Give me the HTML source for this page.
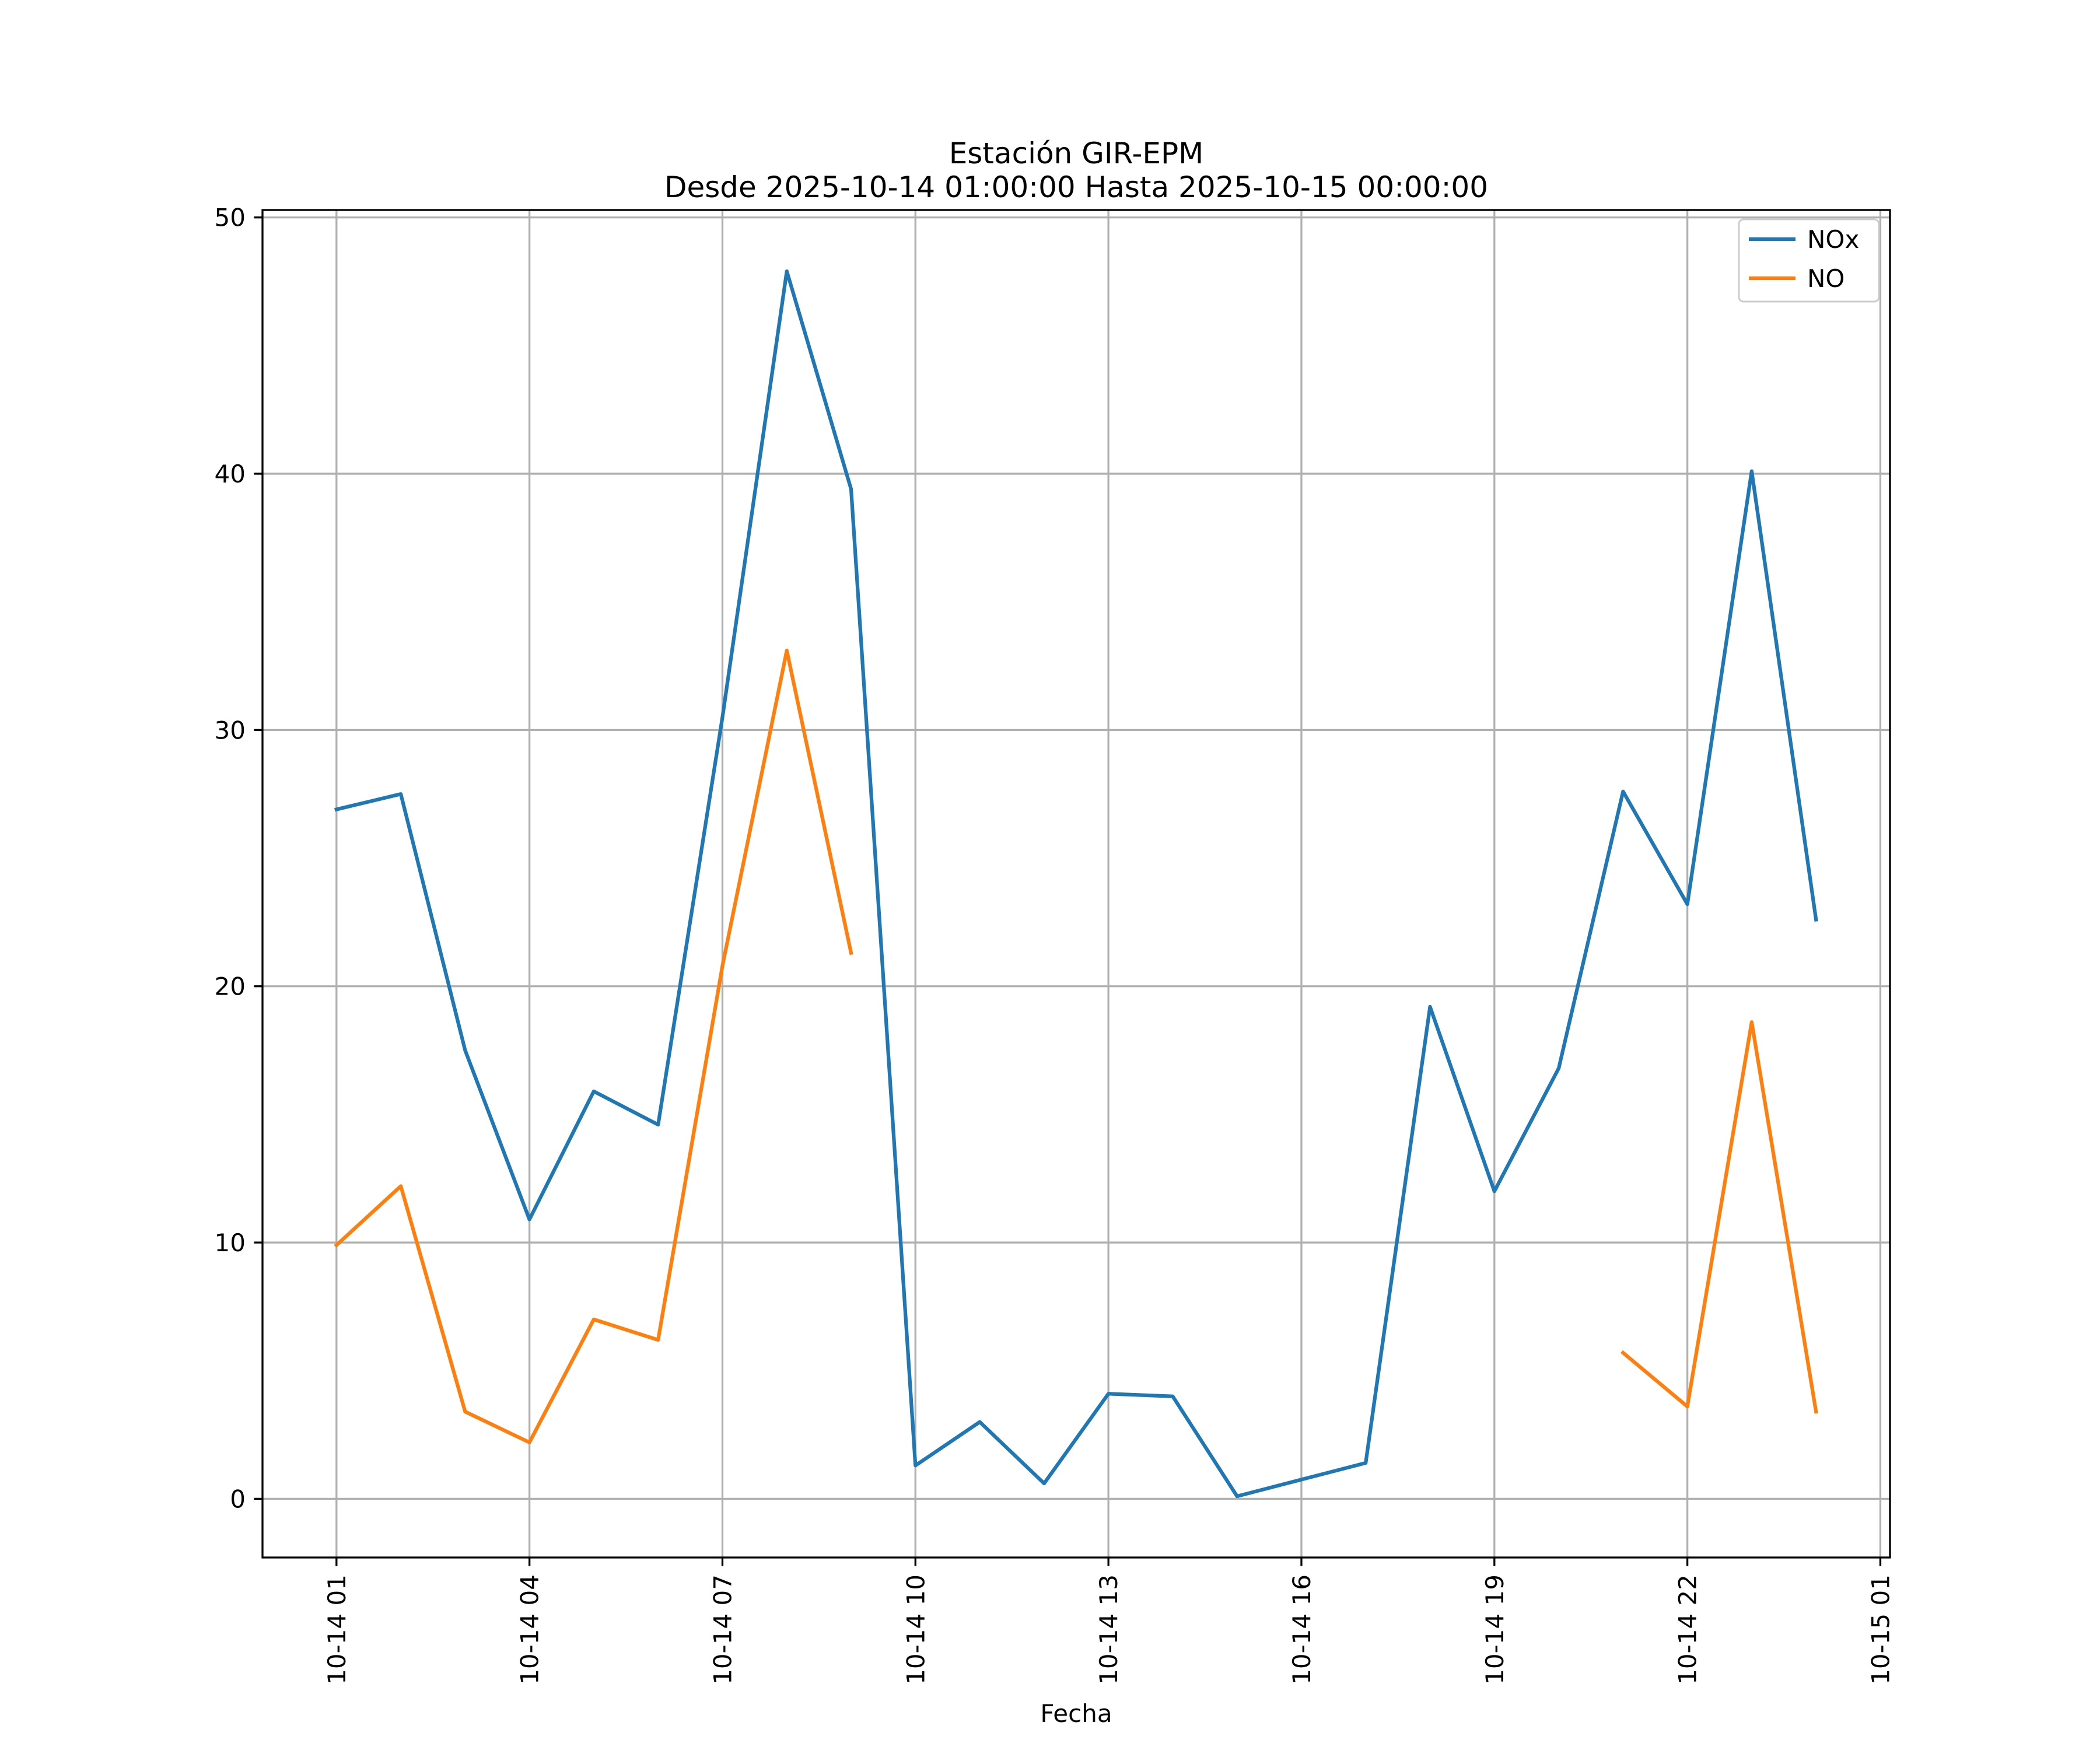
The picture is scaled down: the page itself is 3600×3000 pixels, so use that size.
<!DOCTYPE html>
<html><head><meta charset="utf-8"><style>html,body{margin:0;padding:0;background:#fff}svg{display:block}text{font-family:"DejaVu Sans","Liberation Sans",sans-serif;fill:#000}</style></head>
<body>
<svg id="chart" width="3600" height="3000" viewBox="0 0 3600 3000" xmlns="http://www.w3.org/2000/svg">
<text x="1845" y="280" font-size="50" text-anchor="middle">Estación GIR-EPM</text>
<text x="1845" y="338" font-size="50" text-anchor="middle">Desde 2025-10-14 01:00:00 Hasta 2025-10-15 00:00:00</text>
<g id="grid"></g><g id="series"></g><g id="axes"></g>
<text x="1845" y="2952" font-size="42" text-anchor="middle">Fecha</text>
<g transform="translate(-14,-5)">
<rect x="2995" y="381" width="240" height="141" rx="8" fill="#fff" fill-opacity="0.8" stroke="#ccc" stroke-width="3"/>
<line x1="3012" y1="415" x2="3092" y2="415" stroke="#1f77b4" stroke-width="6.25"/>
<text x="3112" y="430" font-size="42">NOx</text>
<line x1="3012" y1="482" x2="3092" y2="482" stroke="#ff7f0e" stroke-width="6.25"/>
<text x="3112" y="497" font-size="42">NO</text>
</g>
</svg>
<script>
const hours = [1,2,3,4,5,6,7,8,9,10,11,12,13,14,15,16,17,18,19,20,21,22,23,24];
const noxValues = [26.9,27.5,17.5,10.9,15.9,14.6,30.5,47.9,39.4,1.3,3.0,0.6,4.1,4.0,0.1,0.75,1.4,19.2,12.0,16.8,27.6,23.2,40.1,22.6];
const noValues = [9.9,12.2,3.4,2.2,7.0,6.2,20.8,33.1,21.3,null,null,null,null,null,null,null,null,null,null,null,5.7,3.6,18.6,3.4];
const xTickHours = [1,4,7,10,13,16,19,22,25];
const xTickLabels = ["10-14 01","10-14 04","10-14 07","10-14 10","10-14 13","10-14 16","10-14 19","10-14 22","10-15 01"];
const yTicks = [0,10,20,30,40,50];

const L=450,R=3240,T=360,B=2670;
const xmin=-0.15,xmax=25.15,ymin=-2.29,ymax=50.29;
const X=h=>L+(h-xmin)/(xmax-xmin)*(R-L);
const Y=v=>B-(v-ymin)/(ymax-ymin)*(B-T);
const NS="http://www.w3.org/2000/svg";
function mk(tag,attrs,parent){const e=document.createElementNS(NS,tag);for(const k in attrs)e.setAttribute(k,attrs[k]);parent.appendChild(e);return e;}
const grid=document.getElementById('grid'),axes=document.getElementById('axes'),series=document.getElementById('series');
xTickHours.forEach((h,i)=>{
  const x=X(h);
  const g=mk('line',{x1:x,x2:x,y1:T,y2:B,stroke:'#b0b0b0','stroke-width':3.3},grid);
  
  
  mk('line',{x1:x,x2:x,y1:B,y2:B+14.6,stroke:'#000','stroke-width':3.3},axes);
  const t=mk('text',{x:0,y:0,'font-size':42,'text-anchor':'end',transform:`translate(${x+15},${B+29}) rotate(-90)`},axes);
  t.textContent=xTickLabels[i];
  
  
});
yTicks.forEach(v=>{
  const y=Y(v);
  const g=mk('line',{x1:L,x2:R,y1:y,y2:y,stroke:'#b0b0b0','stroke-width':3.3},grid);
  
  
  mk('line',{x1:L-14.6,x2:L,y1:y,y2:y,stroke:'#000','stroke-width':3.3},axes);
  const t=mk('text',{x:L-29,y:y+15,'font-size':42,'text-anchor':'end'},axes);
  t.textContent=v;
  
  
});
const frame=mk('rect',{x:L,y:T,width:R-L,height:B-T,fill:'none',stroke:'#000','stroke-width':3.3},axes);


function draw(vals,color,name){
  let segs=[],cur=[];
  vals.forEach((v,i)=>{if(v==null){if(cur.length)segs.push(cur);cur=[];}else cur.push(X(hours[i]).toFixed(1)+','+Y(v).toFixed(1));});
  if(cur.length)segs.push(cur);
  segs.forEach(s=>{
    const p=mk('polyline',{points:s.join(' '),fill:'none',stroke:color,'stroke-width':6.25,'stroke-linejoin':'round','stroke-linecap':'square'},series);
    
    
  });
}
draw(noxValues,'#1f77b4','nox-line');
draw(noValues,'#ff7f0e','no-line');
</script>
</body></html>
